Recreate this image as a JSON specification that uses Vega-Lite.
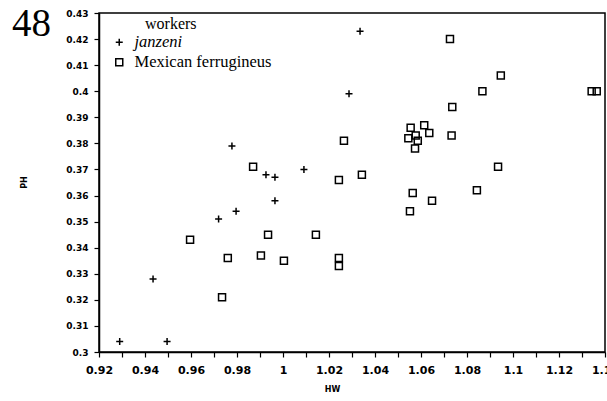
{
  "$schema": "https://vega.github.io/schema/vega-lite/v6.json",
  "autosize": {"type": "none"},
  "width": 506,
  "height": 339,
  "padding": {"left": 99, "top": 13, "right": 2, "bottom": 49},
  "background": "white",
  "title": {
    "text": "48",
    "orient": "top",
    "anchor": "start",
    "frame": "group",
    "font": "Liberation Serif",
    "fontSize": 39,
    "fontWeight": "normal",
    "color": "black",
    "baseline": "bottom",
    "offset": -74,
    "dx": -87
  },
  "config": {
    "view": {"stroke": "black", "strokeWidth": 1.5},
    "axis": {
      "grid": false,
      "domainColor": "black",
      "domainWidth": 1.5,
      "tickColor": "black",
      "tickWidth": 1.2,
      "labelColor": "black",
      "titleColor": "black",
      "labelFont": "DejaVu Sans",
      "labelFontWeight": "bold",
      "titleFont": "DejaVu Sans",
      "titleFontWeight": "bold",
      "titleFontSize": 8,
      "labelOverlap": false,
      "labelFlush": false
    }
  },
  "data": {
    "values": [
      {"HW": 0.929, "PH": 0.304, "species": "janzeni"},
      {"HW": 0.9435, "PH": 0.328, "species": "janzeni"},
      {"HW": 0.9496, "PH": 0.304, "species": "janzeni"},
      {"HW": 0.972, "PH": 0.351, "species": "janzeni"},
      {"HW": 0.9796, "PH": 0.354, "species": "janzeni"},
      {"HW": 0.9965, "PH": 0.358, "species": "janzeni"},
      {"HW": 0.9778, "PH": 0.379, "species": "janzeni"},
      {"HW": 0.9926, "PH": 0.368, "species": "janzeni"},
      {"HW": 0.9965, "PH": 0.367, "species": "janzeni"},
      {"HW": 1.0335, "PH": 0.423, "species": "janzeni"},
      {"HW": 1.0287, "PH": 0.399, "species": "janzeni"},
      {"HW": 1.0091, "PH": 0.37, "species": "janzeni"},
      {"HW": 0.987, "PH": 0.371, "species": "Mexican ferrugineus"},
      {"HW": 0.9596, "PH": 0.343, "species": "Mexican ferrugineus"},
      {"HW": 0.976, "PH": 0.336, "species": "Mexican ferrugineus"},
      {"HW": 0.9735, "PH": 0.321, "species": "Mexican ferrugineus"},
      {"HW": 0.9904, "PH": 0.337, "species": "Mexican ferrugineus"},
      {"HW": 0.9935, "PH": 0.345, "species": "Mexican ferrugineus"},
      {"HW": 1.0004, "PH": 0.335, "species": "Mexican ferrugineus"},
      {"HW": 1.0143, "PH": 0.345, "species": "Mexican ferrugineus"},
      {"HW": 1.0243, "PH": 0.336, "species": "Mexican ferrugineus"},
      {"HW": 1.0243, "PH": 0.333, "species": "Mexican ferrugineus"},
      {"HW": 1.0243, "PH": 0.366, "species": "Mexican ferrugineus"},
      {"HW": 1.0265, "PH": 0.381, "species": "Mexican ferrugineus"},
      {"HW": 1.0343, "PH": 0.368, "species": "Mexican ferrugineus"},
      {"HW": 1.0552, "PH": 0.354, "species": "Mexican ferrugineus"},
      {"HW": 1.0648, "PH": 0.358, "species": "Mexican ferrugineus"},
      {"HW": 1.0564, "PH": 0.361, "species": "Mexican ferrugineus"},
      {"HW": 1.0843, "PH": 0.362, "species": "Mexican ferrugineus"},
      {"HW": 1.0935, "PH": 0.371, "species": "Mexican ferrugineus"},
      {"HW": 1.0555, "PH": 0.386, "species": "Mexican ferrugineus"},
      {"HW": 1.0614, "PH": 0.387, "species": "Mexican ferrugineus"},
      {"HW": 1.0636, "PH": 0.384, "species": "Mexican ferrugineus"},
      {"HW": 1.0545, "PH": 0.382, "species": "Mexican ferrugineus"},
      {"HW": 1.0577, "PH": 0.383, "species": "Mexican ferrugineus"},
      {"HW": 1.0586, "PH": 0.381, "species": "Mexican ferrugineus"},
      {"HW": 1.0574, "PH": 0.378, "species": "Mexican ferrugineus"},
      {"HW": 1.0733, "PH": 0.383, "species": "Mexican ferrugineus"},
      {"HW": 1.0736, "PH": 0.394, "species": "Mexican ferrugineus"},
      {"HW": 1.0726, "PH": 0.42, "species": "Mexican ferrugineus"},
      {"HW": 1.0947, "PH": 0.406, "species": "Mexican ferrugineus"},
      {"HW": 1.0867, "PH": 0.4, "species": "Mexican ferrugineus"},
      {"HW": 1.1342, "PH": 0.4, "species": "Mexican ferrugineus"},
      {"HW": 1.1364, "PH": 0.4, "species": "Mexican ferrugineus"}
    ]
  },
  "mark": {"type": "point", "filled": false, "color": "black", "strokeWidth": 1.5, "size": 49, "opacity": 1},
  "encoding": {
    "x": {
      "field": "HW",
      "type": "quantitative",
      "scale": {"domain": [0.92, 1.14], "nice": false, "zero": false},
      "axis": {
        "title": "HW",
        "values": [0.92, 0.93, 0.94, 0.95, 0.96, 0.97, 0.98, 0.99, 1.0, 1.01, 1.02, 1.03, 1.04, 1.05, 1.06, 1.07, 1.08, 1.09, 1.1, 1.11, 1.12, 1.13, 1.14],
        "labelExpr": "round(datum.value * 100) % 2 == 0 ? format(datum.value, '~g') : ''",
        "labelFontSize": 11,
        "tickSize": 5,
        "labelPadding": 7,
        "titleX": 233,
        "titleY": 33,
        "titleAnchor": "middle"
      }
    },
    "y": {
      "field": "PH",
      "type": "quantitative",
      "scale": {"domain": [0.3, 0.43], "nice": false, "zero": false},
      "axis": {
        "title": "PH",
        "values": [0.3, 0.31, 0.32, 0.33, 0.34, 0.35, 0.36, 0.37, 0.38, 0.39, 0.4, 0.41, 0.42, 0.43],
        "format": "~g",
        "labelFontSize": 9,
        "tickSize": 5,
        "labelPadding": 6,
        "titleX": -75,
        "titleY": 169,
        "titleAngle": -90,
        "titleAlign": "center",
        "titleBaseline": "middle"
      }
    },
    "shape": {
      "field": "species",
      "type": "nominal",
      "scale": {
        "domain": ["janzeni", "Mexican ferrugineus"],
        "range": ["M-1,0H1M0,-1V1", "square"]
      },
      "legend": {
        "title": "workers",
        "orient": "none",
        "legendX": 12,
        "legendY": 3,
        "padding": 0,
        "titleFont": "Liberation Serif",
        "titleFontSize": 16,
        "titleFontWeight": "normal",
        "titleColor": "black",
        "titlePadding": 2,
        "labelFont": "Liberation Serif",
        "labelFontSize": 16.5,
        "labelColor": "black",
        "labelOffset": 7,
        "symbolSize": 49,
        "symbolStrokeColor": "black",
        "symbolStrokeWidth": 1.5,
        "symbolFillColor": "transparent",
        "rowPadding": 3,
        "encoding": {
          "labels": {
            "fontStyle": {"condition": {"test": "datum.label == 'janzeni'", "value": "italic"}, "value": "normal"}
          },
          "title": {
            "dx": {"value": 34}
          }
        }
      }
    }
  }
}
